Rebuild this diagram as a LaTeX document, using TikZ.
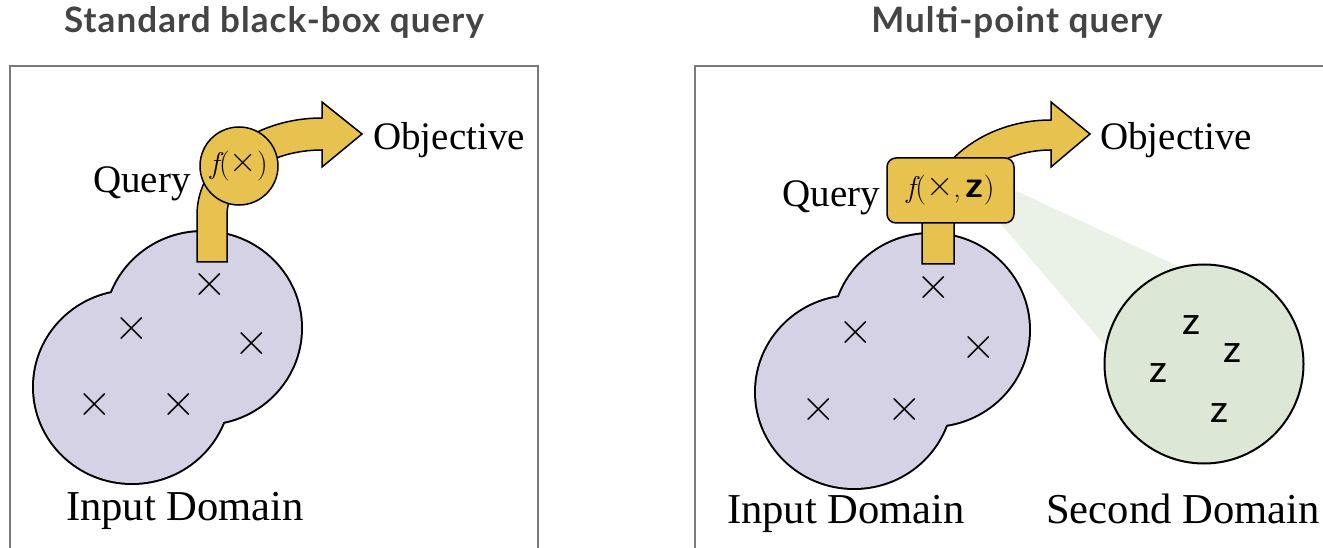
\documentclass[tikz,border=0pt]{standalone}
\usepackage{fontspec}
\setmainfont{Liberation Serif}
\newfontfamily\titlefont[LetterSpace=3]{Lato}
\definecolor{framegray}{HTML}{7A7A7A}
\definecolor{titlegray}{HTML}{444444}
\definecolor{qyellow}{HTML}{E8C24F}
\definecolor{dompurple}{HTML}{D6D2E6}
\definecolor{domgreen}{HTML}{DCE8D5}
\definecolor{wedgegreen}{HTML}{EAF2E7}
\newcommand{\fx}{{\fontsize{30}{32}\selectfont\itshape f}(\raisebox{1pt}{\fontsize{38}{40}\selectfont ×}}
\tikzset{
  frameline/.style={draw=framegray, line width=1.5pt},
  titletext/.style={font=\titlefont\bfseries\fontsize{35}{40}\selectfont, text=titlegray, inner sep=0pt, anchor=base},
  label/.style={font=\fontsize{39}{44}\selectfont, inner sep=0pt},
  biglabel/.style={font=\fontsize{42.6}{46}\selectfont, inner sep=0pt},
  yarrow/.style={fill=qyellow, draw=black, line width=1.5pt, line join=miter},
  fcircle/.style={circle, fill=qyellow, draw=black, line width=1.5pt, minimum size=78pt, inner sep=0pt, font=\fontfamily{lmr}\fontsize{30}{32}\selectfont},
  fbox/.style={rectangle, rounded corners=9pt, fill=qyellow, draw=black, line width=1.5pt, minimum width=127pt, minimum height=65pt, inner sep=0pt, font=\fontfamily{lmr}\fontsize{30}{32}\selectfont},
  xmark/.style={font=\fontfamily{lmr}\fontsize{48}{50}\selectfont, inner sep=0pt},
  zmark/.style={font=\fontfamily{lmss}\fontsize{44}{46}\selectfont, inner sep=0pt},
}
\begin{document}
\begin{tikzpicture}[x=1pt, y=-1pt]
\useasboundingbox (0,0) rectangle (1323,548);

% ---------- titles ----------
\node[titletext] (t1) at (274,33) {Standard black-box query};
\node[titletext] (t2) at (1017,33) {Multi-point query};

% ---------- frames ----------
\draw[frameline] (10,560) -- (10,66) -- (538,66) -- (538,560);
\draw[frameline] (695,560) -- (695,66) -- (1335,66);

% ---------- left panel ----------
\draw[line width=4pt] (132,387) ellipse [x radius=98, y radius=96] (203,328) ellipse [x radius=98, y radius=96];
\fill[dompurple] (132,387) ellipse [x radius=98, y radius=96] (203,328) ellipse [x radius=98, y radius=96];
\node[xmark] (lx1) at (210,285) {×};
\node[xmark] (lx2) at (132,329) {×};
\node[xmark] (lx3) at (252,344) {×};
\node[xmark] (lx4) at (95,405) {×};
\node[xmark] (lx5) at (179,405) {×};

\draw[yarrow] (197,262) -- (197,215) .. controls (197,161.5) and (253,118) .. (322,118)
  -- (322,102) -- (362,134) -- (322,167) -- (322,150)
  .. controls (269.6,150) and (227,179.1) .. (227,215) -- (227,262) -- cycle;
\node[fcircle] (fl) at (239,166) {\fx)};

\node[label, anchor=base east] (ql) at (191,193) {Query};
\node[label, anchor=base west] (ol) at (373,150) {Objective};
\node[biglabel, anchor=base west] (il) at (66,520) {Input Domain};

% ---------- right panel ----------
\fill[wedgegreen] (1014,190) -- (1180,267) -- (1204,364) -- (1106,347) -- (1000,223) -- cycle;
\node[circle, fill=domgreen, draw=black, line width=2pt, minimum size=199pt, inner sep=0pt] (sd) at (1204,364) {};
\node[zmark] (z1) at (1191,325) {z};
\node[zmark] (z2) at (1232,353) {z};
\node[zmark] (z3) at (1158,373) {z};
\node[zmark] (z4) at (1219,413) {z};

\draw[line width=4pt] (854,392) ellipse [x radius=98, y radius=96] (931,330) ellipse [x radius=98, y radius=96];
\fill[dompurple] (854,392) ellipse [x radius=98, y radius=96] (931,330) ellipse [x radius=98, y radius=96];
\node[xmark] (rx1) at (934,288) {×};
\node[xmark] (rx2) at (856,333) {×};
\node[xmark] (rx3) at (979,348) {×};
\node[xmark] (rx4) at (819,410) {×};
\node[xmark] (rx5) at (905,410) {×};

\draw[yarrow] (922,264) -- (922,230) .. controls (922,169.3) and (979.8,120) .. (1051,120)
  -- (1051,102) -- (1090,134) -- (1051,167) -- (1051,150)
  .. controls (997.5,150) and (954,185.8) .. (954,230) -- (954,264) -- cycle;
\node[fbox] (fr) at (950.5,190.5) {\fx,\,{\fontfamily{lmss}\fontsize{38}{40}\selectfont\bfseries z})};

\node[label, anchor=base east] (qr) at (880,207) {Query};
\node[label, anchor=base west] (or) at (1100,150) {Objective};
\node[biglabel, anchor=base west] (ir) at (727,523) {Input Domain};
\node[biglabel, anchor=base west] (sr) at (1046,523) {Second Domain};
\end{tikzpicture}
\end{document}
